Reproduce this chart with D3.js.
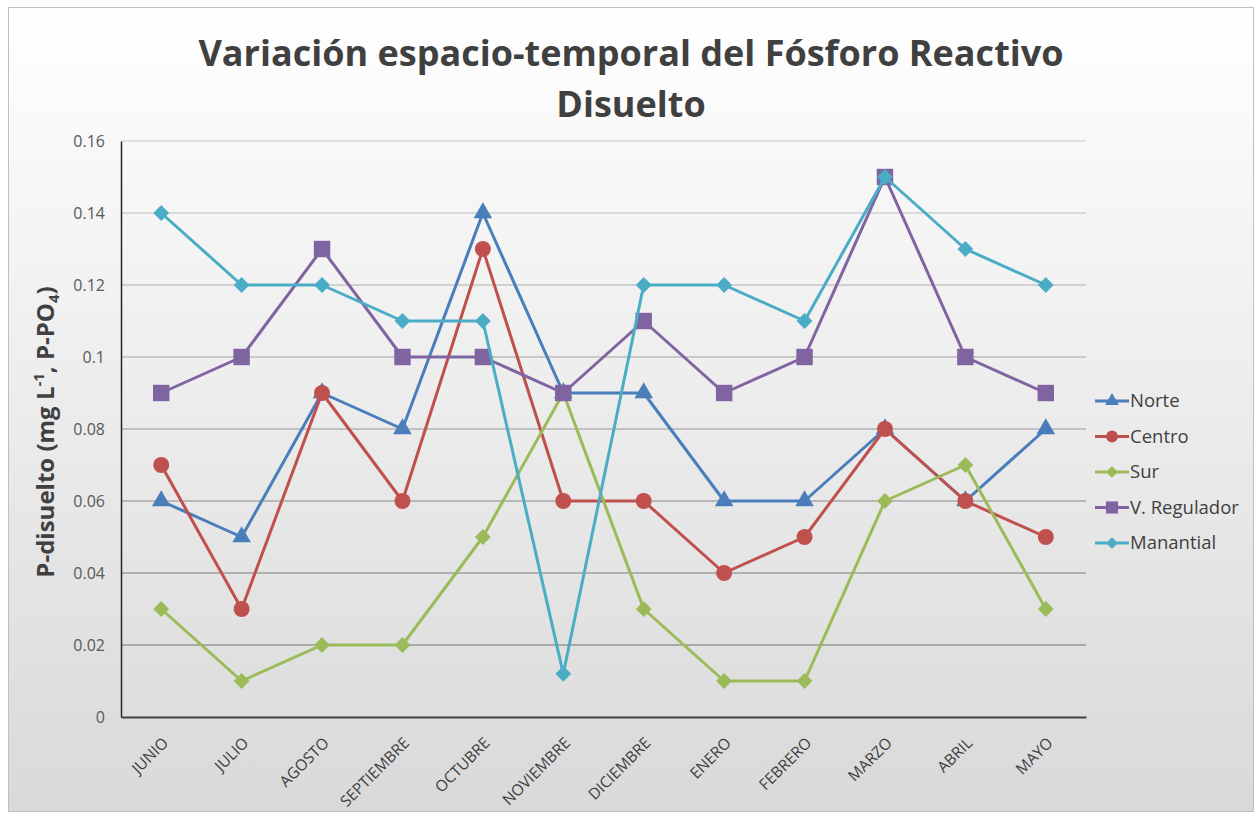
<!DOCTYPE html>
<html>
<head>
<meta charset="utf-8">
<script src="https://cdn.jsdelivr.net/npm/d3@7"></script>
<style>
  body { margin: 0; background: #fff; }
  svg { font-family: "Open Sans", sans-serif; }
</style>
</head>
<body>
<script>
// months and series
var months = ["JUNIO", "JULIO", "AGOSTO", "SEPTIEMBRE", "OCTUBRE", "NOVIEMBRE", "DICIEMBRE", "ENERO", "FEBRERO", "MARZO", "ABRIL", "MAYO"];
var norte = [0.06, 0.05, 0.09, 0.08, 0.14, 0.09, 0.09, 0.06, 0.06, 0.08, 0.06, 0.08];
var centro = [0.07, 0.03, 0.09, 0.06, 0.13, 0.06, 0.06, 0.04, 0.05, 0.08, 0.06, 0.05];
var sur = [0.03, 0.01, 0.02, 0.02, 0.05, 0.09, 0.03, 0.01, 0.01, 0.06, 0.07, 0.03];
var regulador = [0.09, 0.10, 0.13, 0.10, 0.10, 0.09, 0.11, 0.09, 0.10, 0.15, 0.10, 0.09];
var manantial = [0.14, 0.12, 0.12, 0.11, 0.11, 0.012, 0.12, 0.12, 0.11, 0.15, 0.13, 0.12];
var yTicks = [0, 0.02, 0.04, 0.06, 0.08, 0.1, 0.12, 0.14, 0.16];

// diamonds are squares turned 45 degrees
var series = [
  {name: "Norte", values: norte, color: "#4a7ebb", symbol: d3.symbolTriangle, size: 150, rot: 0},
  {name: "Centro", values: centro, color: "#c0504d", symbol: d3.symbolCircle, size: 200, rot: 0},
  {name: "Sur", values: sur, color: "#9bbb59", symbol: d3.symbolSquare, size: 125, rot: 45},
  {name: "V. Regulador", values: regulador, color: "#8064a2", symbol: d3.symbolSquare, size: 270, rot: 0},
  {name: "Manantial", values: manantial, color: "#4bacc6", symbol: d3.symbolSquare, size: 125, rot: 45}
];

var w = 1255, h = 813;
// plot area edges (window.top is reserved, so no "top" here)
var plotL = 121, plotR = 1086, plotT = 141, plotB = 717;

var svg = d3.select("body").append("svg")
  .attr("width", w)
  .attr("height", h);

// background gradient, white to light grey
var grad = svg.append("defs").append("linearGradient")
  .attr("id", "bg")
  .attr("x1", 0).attr("y1", 0).attr("x2", 0).attr("y2", 1);
grad.append("stop").attr("offset", "0%").attr("stop-color", "#ffffff");
grad.append("stop").attr("offset", "100%").attr("stop-color", "#d9d9d9");

svg.append("rect")
  .attr("x", 8.5).attr("y", 7.5)
  .attr("width", w - 10).attr("height", h - 9)
  .attr("fill", "url(#bg)")
  .attr("stroke", "#bfbfbf");

// title
svg.append("text")
  .attr("x", 631).attr("y", 66)
  .attr("text-anchor", "middle")
  .attr("font-size", 36).attr("font-weight", "bold")
  .attr("fill", "#404040")
  .text("Variación espacio-temporal del Fósforo Reactivo");
svg.append("text")
  .attr("x", 631).attr("y", 117)
  .attr("text-anchor", "middle")
  .attr("font-size", 36).attr("font-weight", "bold")
  .attr("fill", "#404040")
  .text("Disuelto");

var x = d3.scaleBand()
  .domain(months)
  .range([plotL, plotR]);

var y = d3.scaleLinear()
  .domain([0, 0.16])
  .range([plotB, plotT]);

// gridlines, darker toward the bottom
var gridColor = d3.scaleLinear().domain([plotT, plotB]).range(["#d9d9d9", "#8c8c8c"]);
svg.append("g")
  .selectAll("line")
  .data(yTicks.slice(1))
  .enter()
  .append("line")
  .attr("x1", plotL).attr("x2", plotR)
  .attr("y1", d => y(d)).attr("y2", d => y(d))
  .attr("stroke", d => gridColor(y(d)))
  .attr("stroke-width", 1.3);

// y axis
var yAxis = d3.axisLeft(y)
  .tickValues(yTicks)
  .tickSize(0)
  .tickPadding(16)
  .tickFormat(d => d === 0 ? "0" : d3.format("")(+d.toFixed(2)));

var gy = svg.append("g")
  .attr("transform", "translate(" + plotL + ",0)")
  .call(yAxis);
gy.select(".domain").attr("stroke", "#262626").attr("stroke-width", 1.5);
gy.selectAll("text").attr("font-size", 16).attr("fill", "#595959")
  .attr("font-family", "'Open Sans', sans-serif");

// x axis
var xAxis = d3.axisBottom(x).tickSize(0).tickPadding(0);
var gx = svg.append("g")
  .attr("transform", "translate(0," + plotB + ")")
  .call(xAxis);
gx.select(".domain").attr("stroke", "#404040").attr("stroke-width", 2);
gx.selectAll("text")
  .attr("font-size", 15.5).attr("fill", "#404040")
  .attr("font-family", "'Open Sans', sans-serif")
  .attr("text-anchor", "end")
  .attr("dy", 0)
  .attr("transform", "translate(8,27) rotate(-45)");

// y axis title
var yt = svg.append("text")
  .attr("transform", "translate(54,432) rotate(-90)")
  .attr("text-anchor", "middle")
  .attr("font-size", 24).attr("font-weight", "bold")
  .attr("fill", "#404040");
yt.append("tspan").text("P-disuelto (mg L");
yt.append("tspan").attr("font-size", 15).attr("dy", -10).text("-1");
yt.append("tspan").attr("dy", 10).text(", P-PO");
yt.append("tspan").attr("font-size", 15).attr("dy", 5).text("4");
yt.append("tspan").attr("dy", -5).text(")");

// lines and markers
var line = d3.line()
  .x((d, i) => x(months[i]) + x.bandwidth() / 2)
  .y(d => y(d));

series.forEach(function(s) {
  var g = svg.append("g");
  g.append("path")
    .datum(s.values)
    .attr("d", line)
    .attr("fill", "none")
    .attr("stroke", s.color)
    .attr("stroke-width", 3)
    .attr("stroke-linejoin", "round");
  g.selectAll("path.mark")
    .data(s.values)
    .enter()
    .append("path")
    .attr("class", "mark")
    .attr("d", d3.symbol().type(s.symbol).size(s.size))
    .attr("transform", (d, i) => "translate(" + (x(months[i]) + x.bandwidth() / 2) + "," + y(d) + ") rotate(" + s.rot + ")")
    .attr("fill", s.color);
});

// legend
var legend = svg.append("g")
  .attr("transform", "translate(1095,401)");
var item = legend.selectAll("g")
  .data(series)
  .enter()
  .append("g")
  .attr("transform", (d, i) => "translate(0," + (i * 35.5) + ")");
item.append("line")
  .attr("x1", 0).attr("x2", 34)
  .attr("stroke", d => d.color)
  .attr("stroke-width", 3);
item.append("path")
  .attr("d", d => d3.symbol().type(d.symbol).size(d.size * 0.55)())
  .attr("transform", d => "translate(17,0) rotate(" + d.rot + ")")
  .attr("fill", d => d.color);
item.append("text")
  .attr("x", 35).attr("dy", "0.35em")
  .attr("font-size", 18.5).attr("fill", "#404040")
  .text(d => d.name);
</script>
</body>
</html>
